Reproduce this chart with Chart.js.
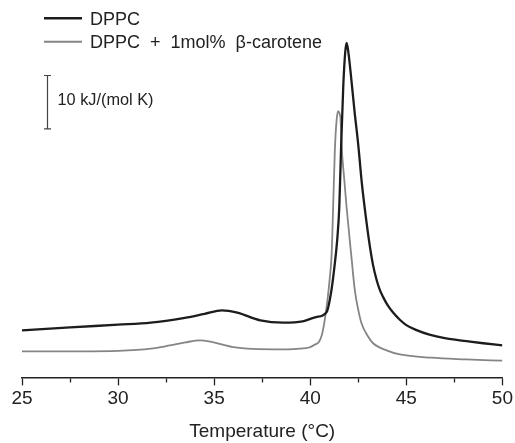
<!DOCTYPE html>
<html>
<head>
<meta charset="utf-8">
<script src="https://cdn.jsdelivr.net/npm/chart.js@4/dist/chart.umd.min.js"></script>
<style>
  html, body { margin: 0; padding: 0; background: #fff; }
  #wrap { width: 515px; height: 443px; position: relative; }
</style>
</head>
<body>
<div id="wrap"><canvas id="dscChart"></canvas></div>
<script>
// DSC curves, excess heat capacity in kJ/(mol K)
const tempDPPC = [25, 27.5, 30, 31.7, 33.4, 34.5, 35.4, 36.2, 37.4, 38.6, 39.6, 40.3, 40.85, 41.1, 41.28, 41.4, 41.51, 41.6, 41.72, 41.82, 41.89, 41.97, 42.1, 42.3, 42.5, 42.67, 42.93, 43.1, 43.27, 43.45, 43.62, 43.8, 44, 44.3, 44.66, 45, 45.5, 46.2, 47, 48.14, 49, 50];
const cpDPPC = [8.81, 9.38, 9.88, 10.26, 11.12, 11.91, 12.56, 12.13, 10.69, 10.26, 10.5, 11.31, 12.24, 16.3, 21.4, 25.7, 31.9, 42.6, 54.8, 61.0, 62.7, 61.3, 57.2, 50.0, 43.5, 36.9, 29.0, 24.6, 21.0, 18.3, 16.4, 15.0, 13.7, 12.2, 10.8, 9.8, 8.9, 8.0, 7.35, 6.8, 6.4, 6.0];

const tempCarotene = [25, 28, 30, 31.7, 32.7, 33.5, 34.27, 34.9, 35.4, 36, 37, 38.6, 39.46, 40.16, 40.6, 40.85, 41.02, 41.11, 41.19, 41.28, 41.37, 41.45, 41.52, 41.58, 41.63, 41.75, 41.89, 42.15, 42.32, 42.5, 42.67, 43, 43.27, 43.97, 44.66, 46.3, 48.1, 50];
const cpCarotene = [4.88, 4.88, 4.97, 5.38, 6.0, 6.56, 6.94, 6.62, 6.19, 5.68, 5.34, 5.25, 5.38, 6.0, 7.88, 13.2, 18.8, 22.9, 31.9, 42.6, 48.2, 49.9, 49.5, 48.2, 43.5, 37.9, 31.9, 22.3, 16.3, 12.6, 10.1, 7.7, 6.4, 5.06, 4.31, 3.69, 3.38, 3.13];

const seriesLabels = ['DPPC', 'DPPC + 1mol% \u03B2-carotene'];
const xTicksMajor = [25, 30, 35, 40, 45, 50];
const scaleBarValue = 10;
const scaleBarTop = 56.6;
const scaleBarText = '10 kJ/(mol K)';

const FONT = '"Liberation Sans", Arial, Helvetica, sans-serif';
Chart.defaults.font.family = FONT;

const toPoints = (xs, ys) => xs.map((x, i) => ({ x, y: ys[i] }));

// legend drawn in the top left corner, as in the figure
const legendPlugin = {
  id: 'cornerLegend',
  afterDraw(chart) {
    const ctx = chart.ctx;
    const rows = [18.3, 41.7];
    ctx.save();
    chart.data.datasets.forEach((ds, i) => {
      ctx.strokeStyle = ds.borderColor;
      ctx.lineWidth = ds.borderWidth + 0.3;
      ctx.beginPath();
      ctx.moveTo(44, rows[i]);
      ctx.lineTo(82, rows[i]);
      ctx.stroke();
      ctx.fillStyle = '#222';
      ctx.font = '18px ' + FONT;
      ctx.textBaseline = 'middle';
      // the original spaces words a bit wider than the font does
      let x = 90;
      ds.label.split(' ').forEach(word => {
        ctx.fillText(word, x, rows[i] + 1.5);
        x += ctx.measureText(word).width + 10;
      });
    });
    ctx.restore();
  }
};

// 10 kJ/(mol K) scale bar, placed on the y scale
const scaleBarPlugin = {
  id: 'scaleBar',
  afterDraw(chart) {
    const ctx = chart.ctx;
    const y = chart.scales.y;
    const top = y.getPixelForValue(scaleBarTop);
    const bottom = y.getPixelForValue(scaleBarTop - scaleBarValue);
    const x = 47.5;
    ctx.save();
    ctx.strokeStyle = '#444';
    ctx.lineWidth = 1.2;
    ctx.beginPath();
    ctx.moveTo(x, top); ctx.lineTo(x, bottom);
    ctx.moveTo(x - 3.5, top); ctx.lineTo(x + 3.5, top);
    ctx.moveTo(x - 3.5, bottom); ctx.lineTo(x + 3.5, bottom);
    ctx.stroke();
    ctx.fillStyle = '#222';
    ctx.font = '17px ' + FONT;
    ctx.textBaseline = 'middle';
    ctx.fillText(scaleBarText, 57.5, (top + bottom) / 2 - 1.5, 96);
    ctx.restore();
  }
};

const ctx = document.getElementById('dscChart').getContext('2d');
new Chart(ctx, {
  type: 'scatter',
  data: {
    datasets: [
      {
        label: seriesLabels[0],
        data: toPoints(tempDPPC, cpDPPC),
        showLine: true,
        borderColor: '#1c1c1c',
        borderWidth: 2.3,
        pointRadius: 0,
        cubicInterpolationMode: 'monotone'
      },
      {
        label: seriesLabels[1],
        data: toPoints(tempCarotene, cpCarotene),
        showLine: true,
        borderColor: '#858585',
        borderWidth: 1.8,
        pointRadius: 0,
        cubicInterpolationMode: 'monotone'
      }
    ]
  },
  options: {
    responsive: true,
    maintainAspectRatio: false,
    animation: false,
    layout: { padding: { top: 4, left: 22, right: 12, bottom: 0 } },
    plugins: {
      legend: { display: false },
      tooltip: { enabled: false }
    },
    scales: {
      x: {
        type: 'linear',
        min: 25,
        max: 50,
        border: { display: true, color: '#222', width: 1.5 },
        grid: {
          drawOnChartArea: false,
          tickLength: 8,
          tickWidth: 1.3,
          tickColor: '#222',
          // minor ticks only half as long
          tickBorderDash: c => (c.tick && xTicksMajor.includes(c.tick.value)) ? [] : [4, 20]
        },
        ticks: {
          stepSize: 2.5,
          autoSkip: false,
          maxRotation: 0,
          padding: 2,
          color: '#222',
          font: { size: 19 },
          callback: v => xTicksMajor.includes(v) ? v : ''
        },
        title: {
          display: true,
          text: 'Temperature (\u00B0C)',
          color: '#222',
          font: { size: 19 },
          padding: { top: 8, bottom: 0 }
        }
      },
      y: {
        display: false,
        min: 0,
        max: 70
      }
    }
  },
  plugins: [legendPlugin, scaleBarPlugin]
});
</script>
</body>
</html>
